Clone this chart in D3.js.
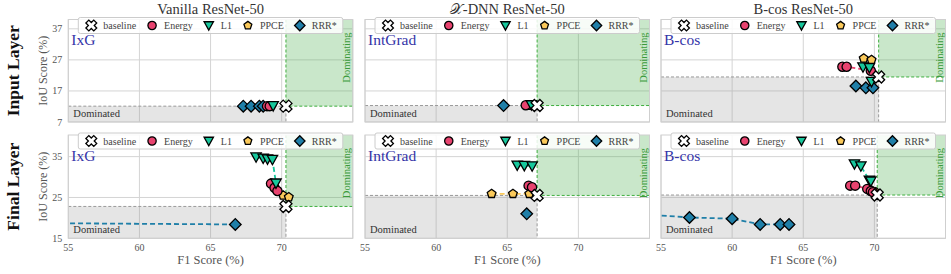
<!DOCTYPE html>
<html>
<head>
<meta charset="utf-8">
<script src="https://cdn.jsdelivr.net/npm/d3@7"></script>
<style>
  body { margin: 0; background: #fff; }
  text { font-family: "Liberation Serif", "DejaVu Serif", serif; }
</style>
</head>
<body>
<div id="chart"></div>
<script>
// column / row names
var models = ["Vanilla ResNet-50", "\u{1D4B3}-DNN ResNet-50", "B-cos ResNet-50"];
var attribs = ["IxG", "IntGrad", "B-cos"];
var layers = ["Input Layer", "Final Layer"];
var methods = ["baseline", "Energy", "L1", "PPCE", "RRR*"];

var xTicks = [55, 60, 65, 70];
var yTicksInput = [7, 17, 27, 37];
var yTicksFinal = [15, 25, 35];

// [method, F1 %, IoU %]
var vanillaInput = [
    ["RRR*", 67.3, 12.1], ["RRR*", 67.85, 12.1], ["RRR*", 68.43, 12.1], ["RRR*", 68.7, 12.1],
    ["Energy", 68.97, 12.1], ["Energy", 69.16, 12.1],
    ["L1", 69.4, 12.2],
    ["baseline", 70.3, 12.1]
];
var vanillaFinal = [
    ["L1", 68.2, 34.9], ["L1", 68.7, 34.6], ["L1", 69.0, 34.4], ["L1", 69.35, 34.3], ["L1", 69.6, 28.5],
    ["Energy", 69.25, 28.4], ["Energy", 69.5, 27.4], ["Energy", 69.7, 26.6],
    ["PPCE", 70.1, 25.5], ["PPCE", 70.5, 25.1],
    ["RRR*", 45, 18.9], ["RRR*", 66.74, 18.4],
    ["baseline", 70.3, 22.8]
];
var xdnnInput = [
    ["RRR*", 64.74, 12.3],
    ["Energy", 66.3, 12.4],
    ["PPCE", 66.45, 12.3],
    ["L1", 66.7, 12.5],
    ["baseline", 67.1, 12.3]
];
var xdnnFinal = [
    ["L1", 65.7, 32.9], ["L1", 66.2, 32.8], ["L1", 66.75, 32.7],
    ["Energy", 66.5, 27.9], ["Energy", 66.74, 27.5],
    ["PPCE", 63.9, 25.9], ["PPCE", 65.4, 25.9], ["PPCE", 66.55, 25.9],
    ["RRR*", 66.37, 21.0],
    ["baseline", 67.1, 25.5]
];
var bcosInput = [
    ["RRR*", 68.7, 18.6], ["RRR*", 69.4, 18.0], ["RRR*", 69.9, 18.0],
    ["Energy", 67.75, 24.8], ["Energy", 68.05, 24.8], ["Energy", 69.75, 23.5],
    ["L1", 69.2, 24.7], ["L1", 69.65, 24.5], ["L1", 69.8, 20.0],
    ["PPCE", 69.25, 27.5], ["PPCE", 69.8, 27.0],
    ["baseline", 70.3, 21.5]
];
var bcosFinal = [
    ["RRR*", 50, 21.8], ["RRR*", 57.0, 20.1], ["RRR*", 60.0, 19.8], ["RRR*", 61.97, 18.4], ["RRR*", 63.38, 18.4], ["RRR*", 64.0, 18.4],
    ["L1", 68.6, 33.2], ["L1", 69.05, 32.7], ["L1", 69.65, 29.2], ["L1", 69.75, 29.0],
    ["Energy", 68.3, 27.9], ["Energy", 68.65, 27.9], ["Energy", 69.5, 27.1], ["Energy", 69.75, 26.6], ["Energy", 69.9, 26.3],
    ["PPCE", 69.85, 26.6], ["PPCE", 70.1, 26.3],
    ["baseline", 70.2, 25.6]
];

var panels = [
    [vanillaInput, xdnnInput, bcosInput],
    [vanillaFinal, xdnnFinal, bcosFinal]
];

var colors = { "Energy": "#e8436f", "L1": "#17c79c", "PPCE": "#fac95a", "RRR*": "#1f7fa8", "baseline": "#fff" };

// marker paths
function poly(pts) { return "M" + pts.map(function(p){ return p[0].toFixed(2) + "," + p[1].toFixed(2); }).join("L") + "Z"; }
function markerPath(m, s) {
    s = s || 1;
    if (m == "Energy") {
        var r = 4.6 * s;
        return "M" + (-r) + ",0A" + r + "," + r + " 0 1,0 " + r + ",0A" + r + "," + r + " 0 1,0 " + (-r) + ",0Z";
    }
    if (m == "L1") { var r = 5.2 * s; return poly([[0, r], [-r, -r * 0.8], [r, -r * 0.8]]); }
    if (m == "PPCE") {
        var r = 4.6 * s, pts = [];
        for (var i = 0; i < 5; i++) { var a = -Math.PI / 2 + i * 2 * Math.PI / 5; pts.push([r * Math.cos(a), r * Math.sin(a)]); }
        return poly(pts);
    }
    if (m == "RRR*") { var r = 5.8 * s; return poly([[0, -r], [r, 0], [0, r], [-r, 0]]); }
    // baseline: filled X
    var R = 6.2 * s, a = 2.3 * s, pts = [
        [-a, -R], [a, -R], [a, -a], [R, -a], [R, a], [a, a], [a, R], [-a, R], [-a, a], [-R, a], [-R, -a], [-a, -a]];
    var c = Math.cos(Math.PI / 4);
    return poly(pts.map(function(p){ return [(p[0] - p[1]) * c, (p[0] + p[1]) * c]; }));
}

var lefts = [68.3, 365, 661], pw = 284.5;
var rows = [{ top: 19.5, bottom: 122, dom: [7, 40], ticks: yTicksInput },
            { top: 135, bottom: 238.3, dom: [15, 40.3], ticks: yTicksFinal }];

var svg = d3.select("#chart").append("svg").attr("width", 951).attr("height", 274);

// row labels
layers.forEach(function(l, ri){
    var cy = (rows[ri].top + rows[ri].bottom) / 2;
    svg.append("text").text(l)
        .attr("transform", "translate(19," + cy + ") rotate(-90)")
        .attr("text-anchor", "middle").attr("font-size", 17.5).attr("font-weight", "bold").attr("fill", "#111");
    svg.append("text").text("IoU Score (%)")
        .attr("transform", "translate(47," + cy + ") rotate(-90)")
        .attr("text-anchor", "middle").attr("font-size", 12).attr("fill", "#555");
});

rows.forEach(function(row, ri){
    lefts.forEach(function(left, ci){
        var data = panels[ri][ci];
        var x = d3.scaleLinear().domain([55, 75]).range([left, left + pw]);
        var y = d3.scaleLinear().domain(row.dom).range([row.bottom, row.top]);
        var g = svg.append("g");
        var clipId = "clip" + ri + ci;
        g.append("clipPath").attr("id", clipId).append("rect")
            .attr("x", left).attr("y", row.top).attr("width", pw).attr("height", row.bottom - row.top);

        // grid
        g.selectAll(".gx").data(xTicks.concat([75])).enter().append("line")
            .attr("x1", function(d){ return x(d); }).attr("x2", function(d){ return x(d); })
            .attr("y1", row.top).attr("y2", row.bottom).attr("stroke", "#d4d4d4").attr("stroke-width", 1);
        g.selectAll(".gy").data(row.ticks).enter().append("line")
            .attr("y1", function(d){ return y(d); }).attr("y2", function(d){ return y(d); })
            .attr("x1", left).attr("x2", left + pw).attr("stroke", "#d4d4d4").attr("stroke-width", 1);

        var base = data.filter(function(d){ return d[0] == "baseline"; })[0];
        var bx = x(base[1]), by = y(base[2]);

        // dominated / dominating areas
        g.append("rect").attr("x", left).attr("y", by).attr("width", bx - left).attr("height", row.bottom - by)
            .attr("fill", "rgba(150,150,150,0.25)");
        g.append("rect").attr("x", bx).attr("y", row.top).attr("width", left + pw - bx).attr("height", by - row.top)
            .attr("fill", "rgba(76,175,80,0.3)");
        g.append("path").attr("d", "M" + left + "," + by + "H" + bx + "V" + row.bottom)
            .attr("fill", "none").attr("stroke", "#999").attr("stroke-width", 1).attr("stroke-dasharray", "3,2");
        g.append("path").attr("d", "M" + bx + "," + row.top + "V" + by + "H" + (left + pw))
            .attr("fill", "none").attr("stroke", "#3fae3f").attr("stroke-width", 1).attr("stroke-dasharray", "3,2");

        // frame
        g.append("rect").attr("x", left).attr("y", row.top).attr("width", pw).attr("height", row.bottom - row.top)
            .attr("fill", "none").attr("stroke", "#cfcfcf").attr("stroke-width", 1);

        g.append("text").text("Dominated").attr("x", left + 5).attr("y", row.bottom - 5)
            .attr("font-size", 10.5).attr("fill", "#333");
        g.append("text").text("Dominating")
            .attr("transform", "translate(" + x(74.8) + "," + (row.top + 13) + ") rotate(-90)")
            .attr("text-anchor", "end").attr("font-size", 10.5).attr("fill", "#3a9a3a");

        g.append("text").text(attribs[ci]).attr("x", left + 3).attr("y", row.top + 25.5)
            .attr("font-size", 15.5).attr("fill", "#3434a8");

        // dashed fronts per method
        var line = d3.line().x(function(d){ return x(d[1]); }).y(function(d){ return y(d[2]); });
        var lg = g.append("g").attr("clip-path", "url(#" + clipId + ")");
        ["RRR*", "PPCE", "Energy", "L1"].forEach(function(m){
            var pts = data.filter(function(d){ return d[0] == m; }).sort(function(a, b){ return a[1] - b[1]; });
            if (pts.length > 1)
                lg.append("path").attr("d", line(pts)).attr("fill", "none").attr("stroke", colors[m])
                    .attr("stroke-width", 1.8).attr("stroke-dasharray", "5,3");
        });
        ["RRR*", "PPCE", "Energy", "L1", "baseline"].forEach(function(m){
            lg.selectAll(null).data(data.filter(function(d){ return d[0] == m; })).enter().append("path")
                .attr("d", markerPath(m))
                .attr("transform", function(d){ return "translate(" + x(d[1]) + "," + y(d[2]) + ")"; })
                .attr("fill", colors[m]).attr("stroke", "#000").attr("stroke-width", 1.3);
        });

        // ticks
        if (ci == 0) {
            g.selectAll(".ty").data(row.ticks).enter().append("text").text(function(d){ return d; })
                .attr("x", left - 6).attr("y", function(d){ return y(d) + 3.5; })
                .attr("text-anchor", "end").attr("font-size", 10).attr("fill", "#555");
        }
        if (ri == 1) {
            g.selectAll(".tx").data(xTicks).enter().append("text").text(function(d){ return d; })
                .attr("x", function(d){ return x(d); }).attr("y", row.bottom + 13)
                .attr("text-anchor", "middle").attr("font-size", 10).attr("fill", "#555");
            g.append("text").text("F1 Score (%)").attr("x", left + pw / 2).attr("y", row.bottom + 26)
                .attr("text-anchor", "middle").attr("font-size", 12.5).attr("fill", "#555");
        }
        if (ri == 0) {
            g.append("text").text(models[ci]).attr("x", left + pw / 2).attr("y", 14)
                .attr("text-anchor", "middle").attr("font-size", 14.5).attr("fill", "#333");
        }

        // legend
        var leg = g.append("g");
        var box = leg.append("rect").attr("rx", 2).attr("fill", "rgba(255,255,255,0.85)")
            .attr("stroke", "#ccc").attr("stroke-width", 1);
        var cx = 7;
        methods.forEach(function(m){
            leg.append("path").attr("d", markerPath(m, 0.9)).attr("transform", "translate(" + (cx + 6) + ",0)")
                .attr("fill", colors[m]).attr("stroke", "#000").attr("stroke-width", 1.3);
            var t = leg.append("text").text(m).attr("x", cx + 18).attr("y", 3.5).attr("font-size", 10).attr("fill", "#444");
            cx += 18 + t.node().getComputedTextLength() + 10;
        });
        var bw = cx - 10 + 6;
        box.attr("x", 0).attr("y", -8).attr("width", bw).attr("height", 16);
        leg.attr("transform", "translate(" + (left + pw / 2 - bw / 2) + "," + (row.top + 6) + ")");
    });
});
</script>
</body>
</html>
